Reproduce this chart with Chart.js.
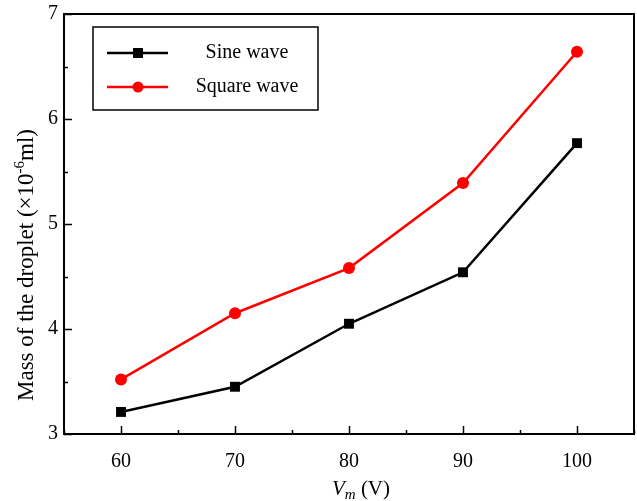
<!DOCTYPE html>
<html>
<head>
<meta charset="utf-8">
<script src="https://cdn.jsdelivr.net/npm/chart.js@4.4.1/dist/chart.umd.min.js"></script>
<style>
  html, body { margin: 0; padding: 0; background: #ffffff; }
  #wrap { width: 637px; height: 501px; }
</style>
</head>
<body>
<div id="wrap"><canvas id="c" width="637" height="501"></canvas></div>
<script>
// ---- data ----
const voltages = [60, 70, 80, 90, 100];
const sineWave = [3.21, 3.45, 4.05, 4.54, 5.77];
const squareWave = [3.52, 4.15, 4.58, 5.39, 6.64];
const seriesNames = ['Sine wave', 'Square wave'];
const xTickLabels = [60, 70, 80, 90, 100];
const yTickLabels = [3, 4, 5, 6, 7];

const FONT = "'Liberation Serif', 'Times New Roman', serif";

const framePlugin = {
  id: 'frame',
  afterDraw(chart) {
    const ctx = chart.ctx;
    const a = chart.chartArea;
    const xs = chart.scales.x, ys = chart.scales.y;
    ctx.save();
    ctx.strokeStyle = '#000';
    // ticks (inward)
    ctx.lineWidth = 1.5;
    ctx.beginPath();
    for (let v = xs.min; v <= xs.max + 1e-9; v += 5) {
      const px = Math.round(xs.getPixelForValue(v)) + 0.5;
      const major = xTickLabels.includes(v);
      ctx.moveTo(px, a.bottom);
      ctx.lineTo(px, a.bottom - (major ? 8 : 4));
    }
    for (let v = ys.min; v <= ys.max + 1e-9; v += 0.5) {
      const py = Math.round(ys.getPixelForValue(v)) + 0.5;
      const major = yTickLabels.includes(v);
      ctx.moveTo(a.left, py);
      ctx.lineTo(a.left + (major ? 8 : 4), py);
    }
    ctx.stroke();
    // frame
    ctx.lineWidth = 2;
    ctx.strokeRect(a.left, a.top, a.right - a.left, a.bottom - a.top);

    // legend
    const lx = a.left + 29, ly = a.top + 13, lw = 225, lh = 83;
    ctx.lineWidth = 1.5;
    ctx.strokeRect(lx, ly, lw, lh);
    chart.data.datasets.forEach((ds, i) => {
      const cy = ly + 26 + i * 34;
      ctx.strokeStyle = ds.borderColor;
      ctx.lineWidth = ds.borderWidth;
      ctx.beginPath();
      ctx.moveTo(lx + 14, cy);
      ctx.lineTo(lx + 75, cy);
      ctx.stroke();
      ctx.fillStyle = ds.pointBackgroundColor;
      if (ds.pointStyle === 'rect') {
        ctx.fillRect(lx + 45 - 5, cy - 5, 10, 10);
      } else {
        ctx.beginPath();
        ctx.arc(lx + 45, cy, 5.5, 0, Math.PI * 2);
        ctx.fill();
      }
      ctx.fillStyle = '#000';
      ctx.font = '20px ' + FONT;
      ctx.textAlign = 'center';
      ctx.textBaseline = 'middle';
      ctx.fillText(ds.label, lx + 154, cy);
    });

    // x title: V_m (V)
    ctx.fillStyle = '#000';
    ctx.textBaseline = 'alphabetic';
    ctx.textAlign = 'left';
    const f1 = 'italic 21px ' + FONT, f2 = 'italic 15px ' + FONT, f3 = '21px ' + FONT;
    ctx.font = f1; const w1 = ctx.measureText('V').width;
    ctx.font = f2; const w2 = ctx.measureText('m').width;
    ctx.font = f3; const w3 = ctx.measureText(' (V)').width;
    let x0 = 361 - (w1 + w2 + w3) / 2;
    const by = 495;
    ctx.font = f1; ctx.fillText('V', x0, by); x0 += w1;
    ctx.font = f2; ctx.fillText('m', x0, by + 4); x0 += w2;
    ctx.font = f3; ctx.fillText(' (V)', x0, by);

    // y title rotated
    ctx.save();
    const cx = 26, cyT = 265;
    ctx.translate(cx, cyT);
    ctx.rotate(-Math.PI / 2);
    const t1 = 'Mass of the droplet (\u00d710', t2 = '-6', t3 = 'ml)';
    const g1 = '23px ' + FONT, g2 = '15px ' + FONT;
    ctx.font = g1; const u1 = ctx.measureText(t1).width, u3 = ctx.measureText(t3).width;
    ctx.font = g2; const u2 = ctx.measureText(t2).width;
    let sx = -(u1 + u2 + u3) / 2;
    ctx.font = g1; ctx.fillText(t1, sx, 7); sx += u1;
    ctx.font = g2; ctx.fillText(t2, sx, -2); sx += u2;
    ctx.font = g1; ctx.fillText(t3, sx, 7);
    ctx.restore();
    ctx.restore();
  }
};

new Chart(document.getElementById('c'), {
  type: 'line',
  data: {
    datasets: [
      {
        label: seriesNames[0],
        data: voltages.map((v, i) => ({ x: v, y: sineWave[i] })),
        borderColor: '#000000',
        backgroundColor: '#000000',
        pointBackgroundColor: '#000000',
        pointBorderColor: '#000000',
        pointStyle: 'rect',
        pointRadius: 7,
        pointBorderWidth: 0,
        borderWidth: 2.5,
        tension: 0
      },
      {
        label: seriesNames[1],
        data: voltages.map((v, i) => ({ x: v, y: squareWave[i] })),
        borderColor: '#ff0000',
        backgroundColor: '#ff0000',
        pointBackgroundColor: '#ff0000',
        pointBorderColor: '#ff0000',
        pointStyle: 'circle',
        pointRadius: 6,
        pointBorderWidth: 0,
        borderWidth: 2.5,
        tension: 0
      }
    ]
  },
  options: {
    responsive: false,
    animation: false,
    devicePixelRatio: 1,
    layout: { autoPadding: false, padding: { top: 14, right: 3, left: 1, bottom: 0 } },
    plugins: { legend: { display: false }, tooltip: { enabled: false } },
    scales: {
      x: {
        type: 'linear',
        min: 55, max: 105,
        grid: { display: false, drawTicks: false },
        border: { display: false },
        ticks: {
          stepSize: 5,
          autoSkip: false,
          maxRotation: 0,
          padding: 16,
          color: '#000',
          font: { family: FONT, size: 20 },
          callback: (v) => xTickLabels.includes(v) ? String(v) : ''
        },
        afterFit: (s) => { s.height = 67; s.paddingLeft = 0; s.paddingRight = 0; }
      },
      y: {
        type: 'linear',
        min: 3, max: 7,
        grid: { display: false, drawTicks: false },
        border: { display: false },
        ticks: {
          stepSize: 1,
          padding: 6,
          color: '#000',
          font: { family: FONT, size: 20 },
          callback: (v) => yTickLabels.includes(v) ? String(v) : ''
        },
        afterFit: (s) => { s.width = 63; s.paddingTop = 0; s.paddingBottom = 0; }
      }
    }
  },
  plugins: [framePlugin]
});
</script>
</body>
</html>
